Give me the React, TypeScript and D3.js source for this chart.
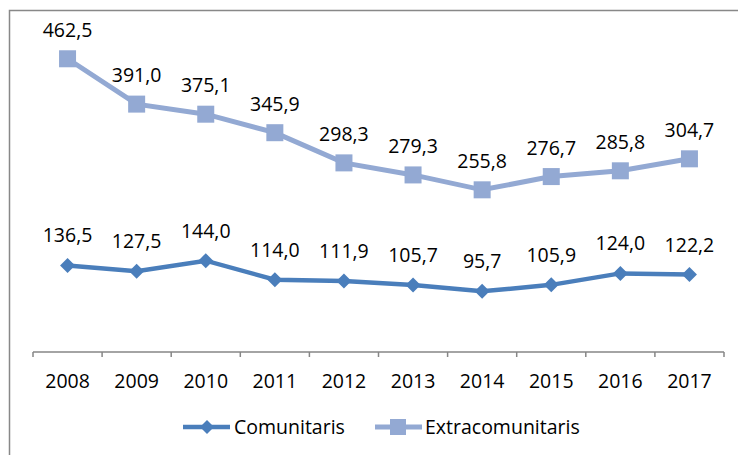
import * as d3 from 'd3';
import React, { useRef, useEffect } from 'react';

const years = ['2008', '2009', '2010', '2011', '2012', '2013', '2014', '2015', '2016', '2017'];
const comunitaris = [136.5, 127.5, 144.0, 114.0, 111.9, 105.7, 95.7, 105.9, 124.0, 122.2];
const extracomunitaris = [462.5, 391.0, 375.1, 345.9, 298.3, 279.3, 255.8, 276.7, 285.8, 304.7];

const width = 738;
const height = 455;
const font = '"Open Sans", sans-serif';
const darkBlue = '#4a7ebb';
const lightBlue = '#93a9d3';

const fmt = (v: number) => v.toFixed(1).replace('.', ',');

const App = () => {
  const gx = useRef<SVGGElement>(null);

  const x = d3.scaleBand().domain(years).range([33, 724]);
  const y = d3.scaleLinear().domain([0, 500]).range([352, 35]);
  const cx = (d: string) => (x(d) ?? 0) + x.bandwidth() / 2;

  const line = d3
    .line<number>()
    .x((d, i) => cx(years[i]))
    .y((d) => y(d));

  useEffect(() => {
    const g = d3.select(gx.current);
    g.selectAll('*').remove();
    g.append('line')
      .attr('x1', 33)
      .attr('x2', 724)
      .attr('y1', 0)
      .attr('y2', 0)
      .attr('stroke', '#868686')
      .attr('stroke-width', 1.5);
    // ticks sit on band boundaries
    const bounds = years.map((d) => x(d) ?? 0).concat([724]);
    g.selectAll('line.tick')
      .data(bounds)
      .join('line')
      .attr('class', 'tick')
      .attr('x1', (d) => d)
      .attr('x2', (d) => d)
      .attr('y1', 0)
      .attr('y2', 5)
      .attr('stroke', '#868686')
      .attr('stroke-width', 1.5);
    g.selectAll('text')
      .data(years)
      .join('text')
      .attr('x', (d) => cx(d))
      .attr('y', 36)
      .attr('text-anchor', 'middle')
      .attr('font-family', font)
      .attr('font-size', 19.5)
      .attr('fill', '#000')
      .text((d) => d);
  }, []);

  const diamond = (px: number, py: number, r = 7.5) =>
    `M${px},${py - r}L${px + r},${py}L${px},${py + r}L${px - r},${py}Z`;

  return (
    <svg width={width} height={height} style={{ position: 'absolute', left: 0, top: 0 }}>
      <rect x={0} y={0} width={width} height={height} fill="#fff" />
      <rect x={9.5} y={10.5} width={740} height={460} fill="none" stroke="#888" strokeWidth={1.5} />
      <g ref={gx} transform="translate(0,352)" />

      <path d={line(extracomunitaris) ?? ''} fill="none" stroke={lightBlue} strokeWidth={5} />
      {extracomunitaris.map((v, i) => (
        <rect key={i} x={cx(years[i]) - 8.5} y={y(v) - 8.5} width={17} height={17} fill={lightBlue} />
      ))}
      <path d={line(comunitaris) ?? ''} fill="none" stroke={darkBlue} strokeWidth={4.5} />
      {comunitaris.map((v, i) => (
        <path key={i} d={diamond(cx(years[i]), y(v))} fill={darkBlue} />
      ))}

      <g fontFamily={font} fontSize={19.5} textAnchor="middle" fill="#000">
        {extracomunitaris.map((v, i) => (
          <text key={i} x={cx(years[i])} y={y(v) - 22}>{fmt(v)}</text>
        ))}
        {comunitaris.map((v, i) => (
          <text key={i} x={cx(years[i])} y={y(v) - 23}>{fmt(v)}</text>
        ))}
      </g>

      <g fontFamily={font} fontSize={19.5} fill="#000">
        <line x1={183} x2={230} y1={427} y2={427} stroke={darkBlue} strokeWidth={4.5} />
        <path d={diamond(207, 427, 7)} fill={darkBlue} />
        <text x={234} y={434}>Comunitaris</text>
        <line x1={375} x2={422} y1={427} y2={427} stroke={lightBlue} strokeWidth={5} />
        <rect x={390} y={419} width={16} height={16} fill={lightBlue} />
        <text x={425} y={434}>Extracomunitaris</text>
      </g>
    </svg>
  );
};

export default App;
